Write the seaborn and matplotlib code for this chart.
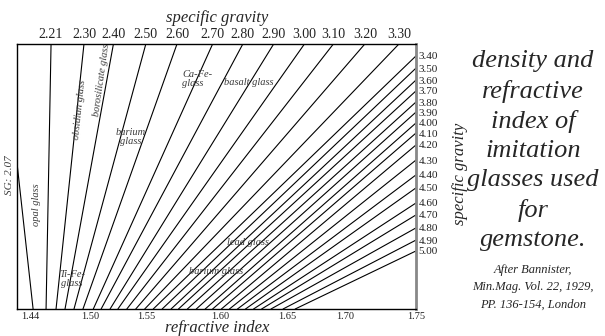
import numpy as np
import pandas as pd
import matplotlib
matplotlib.use("Agg")
import matplotlib.pyplot as plt
import seaborn as sns

# refractive index ticks along the bottom edge
ri_ticks = [1.44, 1.50, 1.55, 1.60, 1.65, 1.70, 1.75]

# specific gravity of every line and the refractive index where it meets the bottom edge
sg_values = [2.07, 2.21, 2.30, 2.40, 2.50, 2.60, 2.70, 2.80, 2.90, 3.00, 3.10, 3.20, 3.30,
             3.40, 3.50, 3.60, 3.70, 3.80, 3.90, 4.00, 4.10, 4.20, 4.30, 4.40, 4.50,
             4.60, 4.70, 4.80, 4.90, 5.00]
base_ri = [1.443, 1.456, 1.466, 1.475, 1.484, 1.493, 1.503, 1.510, 1.518, 1.525, 1.533, 1.541, 1.549,
           1.555, 1.561, 1.567, 1.572, 1.578, 1.584, 1.590, 1.595, 1.601, 1.607, 1.613, 1.619,
           1.625, 1.631, 1.638, 1.647, 1.657]

# lines that leave through the top edge
sg_top = [2.21, 2.30, 2.40, 2.50, 2.60, 2.70, 2.80, 2.90, 3.00, 3.10, 3.20, 3.30]
top_ri = [1.461, 1.494, 1.521, 1.550, 1.571, 1.595, 1.617, 1.640, 1.665, 1.690, 1.714, 1.738]

# lines that leave through the right edge (height as a fraction of the frame)
sg_right = [3.40, 3.50, 3.60, 3.70, 3.80, 3.90, 4.00, 4.10, 4.20, 4.30, 4.40, 4.50,
            4.60, 4.70, 4.80, 4.90, 5.00]
right_h = [0.955, 0.909, 0.864, 0.823, 0.781, 0.743, 0.702, 0.664, 0.619, 0.562, 0.506, 0.457,
           0.400, 0.355, 0.306, 0.260, 0.219]

# the opal glass line leaves through the left edge
sg_left = 2.07
left_h = 0.551

RI_MIN, RI_MAX = 1.427, 1.75

# the printed scale is not uniform: where each tick sits across the frame
ri_knots = [1.40] + ri_ticks + [1.80]
pos_knots = [-0.068, 0.033, 0.183, 0.323, 0.509, 0.677, 0.822, 1.0, 1.178]


def fwd(v):
    return np.interp(v, ri_knots, pos_knots)


def inv(v):
    return np.interp(v, pos_knots, ri_knots)


rows = []
for sg, ri in zip(sg_values, base_ri):
    rows.append((sg, ri, 0.0))
for sg, ri in zip(sg_top, top_ri):
    rows.append((sg, ri, 1.0))
for sg, h in zip(sg_right, right_h):
    rows.append((sg, RI_MAX, h))
rows.append((sg_left, RI_MIN, left_h))
df = pd.DataFrame(rows, columns=["sg", "ri", "h"])

sns.set_theme(style="white")
plt.rcParams["font.family"] = ["Liberation Serif", "DejaVu Serif"]

fig = plt.figure(figsize=(6.05, 3.36), dpi=100)
ax = fig.add_axes([0.0281, 0.0804, 0.6595, 0.7887])

sns.lineplot(data=df, x="ri", y="h", units="sg", estimator=None, sort=False,
             color="black", lw=0.8, legend=False, ax=ax)

ax.set_xscale("function", functions=(fwd, inv))
ax.set_xlim(RI_MIN, RI_MAX)
ax.set_ylim(0, 1)
ax.minorticks_off()
ax.set_xlabel("")
ax.set_ylabel("")

ax.set_xticks(ri_ticks, labels=[f"{v:.2f}" for v in ri_ticks])
ax.tick_params(axis="x", length=0, pad=2, labelsize=7.5, colors="#222222")

# specific gravity scale on the right edge
ax.yaxis.tick_right()
ax.set_yticks(right_h, labels=[f"{v:.2f}" for v in sg_right])
ax.tick_params(axis="y", length=0, pad=2, labelsize=8, colors="#222222")

# specific gravity scale on the top edge
for sg, ri in zip(sg_top, top_ri):
    ax.annotate(f"{sg:.2f}", xy=(ri, 1.0), xytext=(0, 2), textcoords="offset points",
                ha="center", va="bottom", fontsize=10, color="#222222")

for side in ["top", "left", "bottom"]:
    ax.spines[side].set_color("black")
    ax.spines[side].set_linewidth(1.0)
ax.spines["right"].set_color("#888888")
ax.spines["right"].set_linewidth(2.0)

# glass type labels
lab = dict(style="italic", fontsize=7.5, color="#3a3a3a", transform=ax.transAxes)
ax.text(0.050, 0.392, "opal glass", rotation=90, ha="center", va="center", **lab)
ax.text(0.158, 0.751, "obsidian glass", rotation=84, ha="center", va="center", **lab)
ax.text(0.211, 0.864, "borosilicate glass", rotation=82, ha="center", va="center", **lab)
ax.text(0.286, 0.649, "barium\nglass", ha="center", va="center", linespacing=1.1, **lab)
ax.text(0.414, 0.868, "Ca-Fe-\nglass", ha="left", va="center", linespacing=1.1, **lab)
ax.text(0.581, 0.853, "basalt glass", ha="center", va="center", **lab)
ax.text(0.138, 0.113, "Ti-Fe-\nglass", ha="center", va="center", linespacing=1.1, **lab)
ax.text(0.579, 0.249, "lead glass", ha="center", va="center", **lab)
ax.text(0.499, 0.143, "barium glass", ha="center", va="center", **lab)
ax.text(-0.018, 0.506, "SG: 2.07", rotation=90, ha="center", va="center",
        style="italic", fontsize=8, color="#3a3a3a", transform=ax.transAxes)

# axis titles
fig.text(0.359, 0.946, "specific gravity", ha="center", va="center", style="italic", fontsize=12)
fig.text(0.359, 0.025, "refractive index", ha="center", va="center", style="italic", fontsize=12)
fig.text(0.760, 0.482, "specific gravity", rotation=90, ha="center", va="center",
         style="italic", fontsize=12)

# title block and source
fig.text(0.881, 0.552, "density and\nrefractive\nindex of\nimitation\nglasses used\nfor\ngemstone.",
         ha="center", va="center", style="italic", fontsize=19, linespacing=1.42)
fig.text(0.881, 0.146, "After Bannister,\nMin.Mag. Vol. 22, 1929,\nPP. 136-154, London",
         ha="center", va="center", style="italic", fontsize=9, linespacing=1.6)

fig.savefig("out.png", dpi=100)
